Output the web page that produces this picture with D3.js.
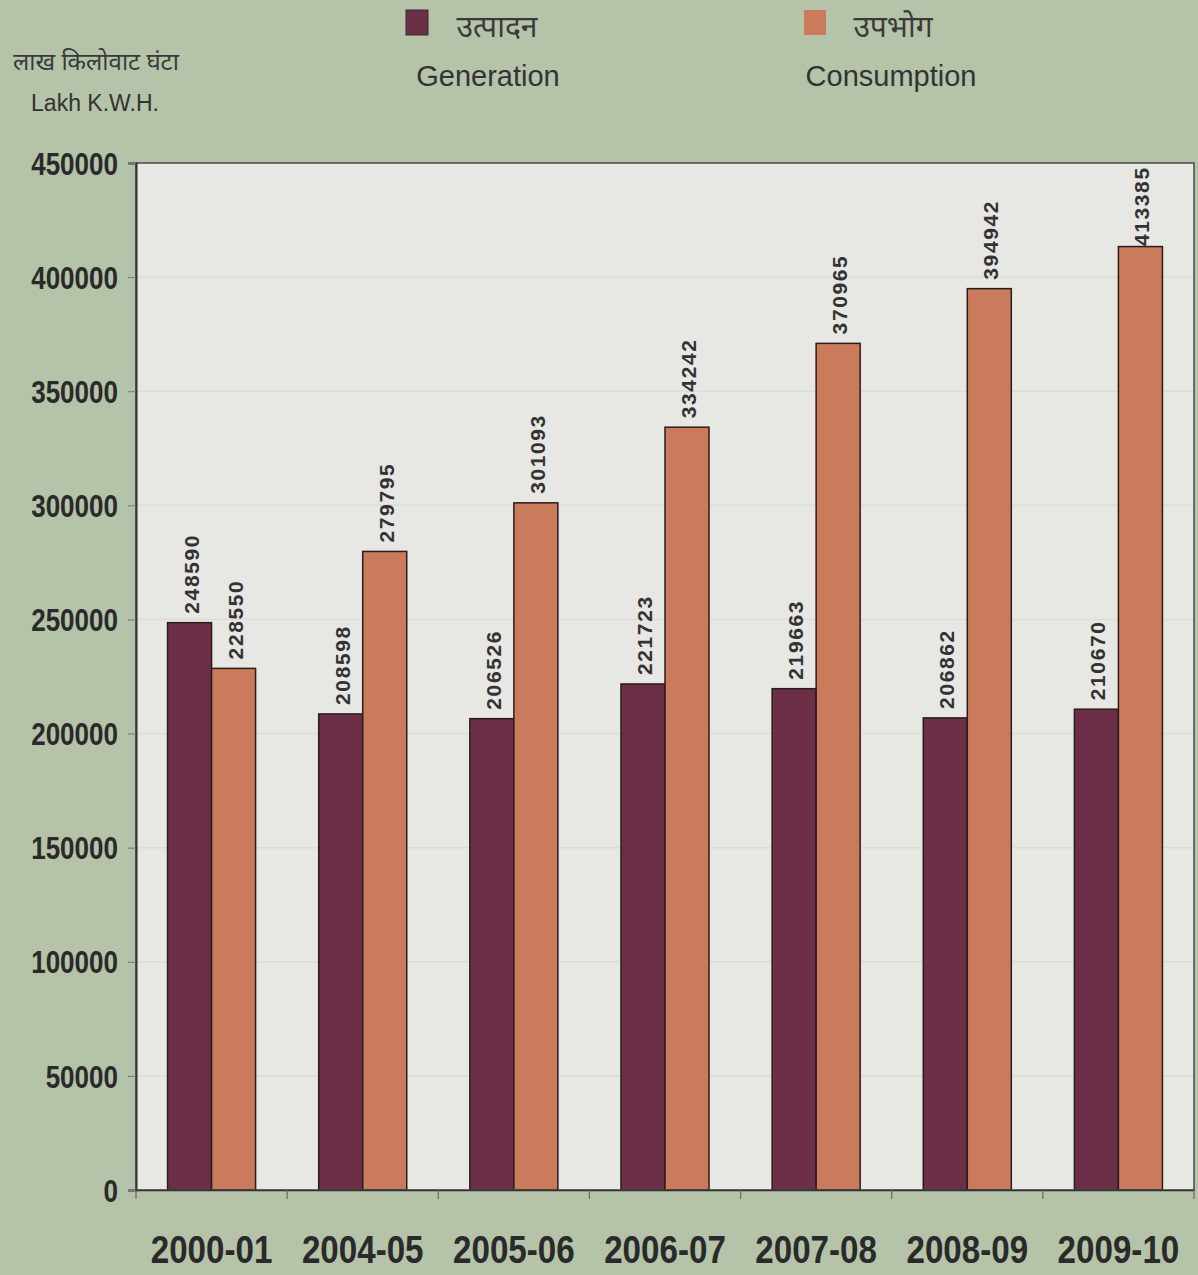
<!DOCTYPE html>
<html><head><meta charset="utf-8">
<script src="https://cdn.jsdelivr.net/npm/d3@7"></script>
<style>
html,body{margin:0;padding:0;background:#b5c3a9;}
svg{display:block;}
</style></head>
<body>
<script>
const categories = ["2000-01","2004-05","2005-06","2006-07","2007-08","2008-09","2009-10"];
const generation = [248590,208598,206526,221723,219663,206862,210670];
const consumption = [228550,279795,301093,334242,370965,394942,413385];
const yTicks = [0,50000,100000,150000,200000,250000,300000,350000,400000,450000];
const seriesKeys = ["gen","con"];
const seriesHindi = ["उत्पादन","उपभोग"];
const seriesEnglish = ["Generation","Consumption"];
const yTitleHindi = "लाख किलोवाट घंटा";
const yTitleEnglish = "Lakh K.W.H.";

(function(){
const W = 1198, H = 1275;
const colors = {gen:"#6b2f47", con:"#c97b5b"};
const pL = 136, pR = 1194, pT = 163, pB = 1190;

const svg = d3.select("body").append("svg").attr("width",W).attr("height",H);
svg.append("rect").attr("width",W).attr("height",H).attr("fill","#b5c3a9");

const y = d3.scaleLinear().domain([0,450000]).range([pB,pT]);
const x0 = d3.scaleBand().domain(categories).range([pL,pR]).padding(0);
const x1 = d3.scaleBand().domain(seriesKeys).range([0,x0.bandwidth()]).paddingInner(0).paddingOuter(0.717);

// plot area
svg.append("rect").attr("x",pL).attr("y",pT).attr("width",pR-pL).attr("height",pB-pT)
  .attr("fill","#e7e7e3");

// gridlines
svg.append("g").selectAll("line").data(yTicks.slice(1,-1)).join("line")
  .attr("x1",pL).attr("x2",pR).attr("y1",d=>y(d)).attr("y2",d=>y(d))
  .attr("stroke","#dcddd7").attr("stroke-width",1.5);

// bars
const rows = categories.map((c,i)=>({cat:c, gen:generation[i], con:consumption[i]}));
const groups = svg.append("g").selectAll("g").data(rows).join("g")
  .attr("transform",d=>`translate(${x0(d.cat)},0)`);
groups.selectAll("rect").data(d=>seriesKeys.map(k=>({k, v:d[k]}))).join("rect")
  .attr("x",d=>x1(d.k)).attr("width",x1.bandwidth())
  .attr("y",d=>y(d.v)).attr("height",d=>pB-y(d.v))
  .attr("fill",d=>colors[d.k]).attr("stroke","#2b1c1c").attr("stroke-width",1.5);
groups.selectAll("text").data(d=>seriesKeys.map(k=>({k, v:d[k]}))).join("text")
  .attr("transform",d=>{
    const cx = x1(d.k)+x1.bandwidth()/2+9;
    let yy = y(d.v)-9;
    if (yy - 80 < pT) yy = pT + 83;
    return `translate(${cx},${yy}) rotate(-90)`;})
  .attr("font-family","Liberation Sans, Arial, sans-serif").attr("font-weight","bold")
  .attr("font-size",21).attr("letter-spacing","1.6px").attr("fill","#333")
  .text(d=>d.v);

// plot border
svg.append("rect").attr("x",pL).attr("y",pT).attr("width",pR-pL).attr("height",pB-pT)
  .attr("fill","none").attr("stroke","#4a4a48").attr("stroke-width",1.5);

// y axis
const yAxis = svg.append("g").attr("transform",`translate(${pL},0)`)
  .call(d3.axisLeft(y).tickValues(yTicks).tickSize(8).tickPadding(10).tickFormat(d3.format("d")));
yAxis.select(".domain").attr("stroke","#333").attr("stroke-width",2);
yAxis.selectAll(".tick line").attr("stroke","#777");
yAxis.selectAll(".tick text")
  .attr("font-family","Liberation Sans, Arial, sans-serif").attr("font-weight","bold")
  .attr("font-size",31).attr("fill","#2a2a2a")
  .attr("x",-18/0.84).attr("dy","0.36em").attr("transform","scale(0.84,1)");

// x axis
const xAxis = svg.append("g").attr("transform",`translate(0,${pB})`)
  .call(d3.axisBottom(x0).tickSize(0).tickPadding(0));
xAxis.select(".domain").attr("stroke","#333").attr("stroke-width",1.5);
xAxis.selectAll(".tick text")
  .attr("font-family","Liberation Sans, Arial, sans-serif").attr("font-weight","bold")
  .attr("font-size",39).attr("fill","#2a2a2a")
  .attr("y",0).attr("dy",0)
  .attr("transform","translate(0,73) scale(0.85,1)");
// boundary ticks
svg.append("g").selectAll("line").data(categories.concat([null])).join("line")
  .attr("x1",(d,i)=> i<categories.length ? x0(d) : pR)
  .attr("x2",(d,i)=> i<categories.length ? x0(d) : pR)
  .attr("y1",pB).attr("y2",pB+9).attr("stroke","#666").attr("stroke-width",1.2);

// legend
const legendX = [406, 804];
const legendTextX = [497, 893];
seriesKeys.forEach((k,i)=>{
  svg.append("rect").attr("x",legendX[i]).attr("y",10).attr("width",22).attr("height",25)
    .attr("fill",colors[k]).attr("stroke", i===0?"#3a2a2a":"none").attr("stroke-width",1);
  svg.append("text").attr("x",legendTextX[i]).attr("y",37).attr("text-anchor","middle")
    .attr("font-family","Noto Sans, Lohit Devanagari, sans-serif").attr("font-size",30)
    .attr("fill","#3a3a3a").text(seriesHindi[i]);
  svg.append("text").attr("x",[488,891][i]).attr("y",86).attr("text-anchor","middle")
    .attr("font-family","Liberation Sans, Arial, sans-serif").attr("font-size",29)
    .attr("fill","#333").text(seriesEnglish[i]);
});

// y title
svg.append("text").attr("x",96).attr("y",70).attr("text-anchor","middle")
  .attr("font-family","Noto Sans, sans-serif").attr("font-size",24).attr("fill","#3a3a3a")
  .text(yTitleHindi);
svg.append("text").attr("x",95).attr("y",111).attr("text-anchor","middle")
  .attr("font-family","Liberation Sans, Arial, sans-serif").attr("font-size",23).attr("fill","#333")
  .text(yTitleEnglish);
})();
</script>
</body></html>
